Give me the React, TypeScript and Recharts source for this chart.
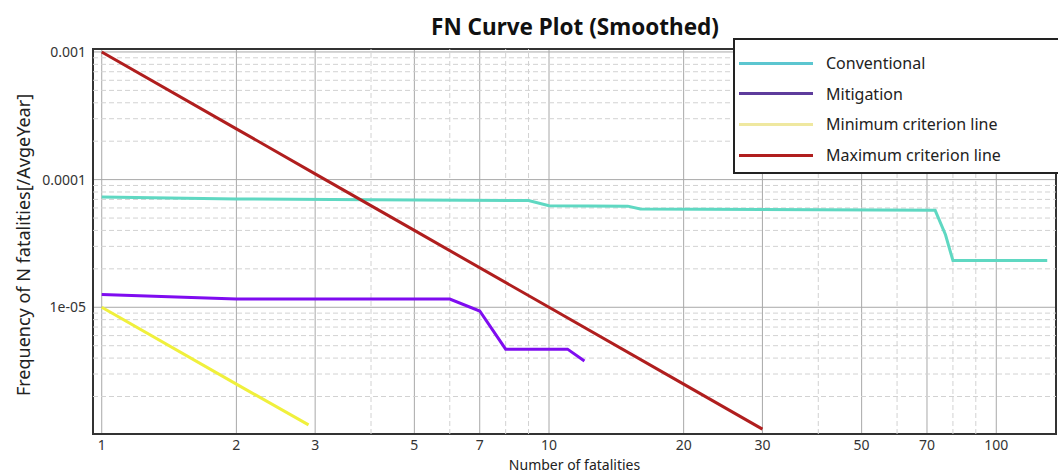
import React from 'react';
import {
	LineChart,
	Line,
	XAxis,
	YAxis,
	CartesianGrid,
	ReferenceLine,
	ReferenceArea,
	Legend,
} from 'recharts';

// values (log-log FN plot)
const conventionalN = [1, 2, 4, 9, 10, 15, 16, 73, 77, 80, 130];
const conventionalF = [7.3e-5, 7.05e-5, 6.95e-5, 6.85e-5, 6.25e-5, 6.2e-5, 5.9e-5, 5.75e-5, 3.7e-5, 2.32e-5, 2.32e-5];

const mitigationN = [1, 2, 6, 7, 8, 11, 12];
const mitigationF = [1.26e-5, 1.16e-5, 1.16e-5, 9.35e-6, 4.7e-6, 4.7e-6, 3.8e-6];

const minimumN = [1, 2, 2.9];
const minimumF = [1e-5, 2.5e-6, 1.2e-6];

const maximumN = [1, 2, 3, 5, 10, 20, 30];
const maximumF = [1e-3, 2.5e-4, 1.11e-4, 4e-5, 1e-5, 2.5e-6, 1.11e-6];

const xTicks = [1, 2, 3, 5, 7, 10, 20, 30, 50, 70, 100];
const xMinorTicks = [4, 6, 8, 9, 40, 60, 80, 90];
const yTicks = [0.001, 0.0001, 0.00001];
const yTickLabels = ['0.001', '0.0001', '1e-05'];
const yMinorTicks = [
	2e-6, 3e-6, 4e-6, 5e-6, 6e-6, 7e-6, 8e-6, 9e-6,
	2e-5, 3e-5, 4e-5, 5e-5, 6e-5, 7e-5, 8e-5, 9e-5,
	2e-4, 3e-4, 4e-4, 5e-4, 6e-4, 7e-4, 8e-4, 9e-4,
];
const xDomain: [number, number] = [0.956, 136];
const yDomain: [number, number] = [1.017e-6, 1.055e-3];

const series = [
	{ name: 'Conventional', n: conventionalN, f: conventionalF, color: '#5fd8c2', legendColor: '#5cc6d0' },
	{ name: 'Mitigation', n: mitigationN, f: mitigationF, color: '#7f0cf0', legendColor: '#5e3c9c' },
	{ name: 'Minimum criterion line', n: minimumN, f: minimumF, color: '#f0f03c', legendColor: '#efe8a0' },
	{ name: 'Maximum criterion line', n: maximumN, f: maximumF, color: '#b01e1e', legendColor: '#b01e1e' },
];

const toPoints = (n: number[], f: number[]) => n.map((v, i) => ({ n: v, f: f[i] }));

const renderLegend = () => (
	<div
		style={{
			position: 'relative',
			width: 330,
			height: 136,
			border: '2px solid #222',
			background: '#fff',
			boxSizing: 'border-box',
		}}
	>
		{series.map((s, i) => (
			<div
				key={s.name}
				style={{
					position: 'absolute',
					left: 4,
					top: 23 + i * 30.7 - 11,
					height: 22,
					display: 'flex',
					alignItems: 'center',
				}}
			>
				<div style={{ width: 74, height: 3, background: s.legendColor }} />
				<span style={{ marginLeft: 13, fontSize: 16, color: '#222', whiteSpace: 'nowrap' }}>
					{s.name}
				</span>
			</div>
		))}
	</div>
);

export default function App() {
	return (
		<div
			style={{
				position: 'absolute',
				left: 0,
				top: 0,
				width: 1058,
				height: 474,
				overflow: 'hidden',
				background: '#fff',
				fontFamily: '"Noto Sans", sans-serif',
			}}
		>
			<LineChart width={1058} height={474} margin={{ top: 49, right: 2, bottom: 0, left: 0 }}>
				<CartesianGrid stroke="#a8a8a8" strokeWidth={1} />

				{xMinorTicks.map((v) => (
					<ReferenceLine key={`x${v}`} x={v} stroke="#d2d2d2" strokeDasharray="5 3" />
				))}
				{yMinorTicks.map((v) => (
					<ReferenceLine key={`y${v}`} y={v} stroke="#d2d2d2" strokeDasharray="5 3" />
				))}

				<XAxis
					dataKey="n"
					type="number"
					scale="log"
					domain={xDomain}
					allowDataOverflow
					ticks={xTicks}
					height={40}
					axisLine={false}
					tickLine={false}
					tickSize={6}
					tickMargin={0}
					tick={{ fontSize: 14, fill: '#333' }}
					label={{ value: 'Number of fatalities', position: 'insideBottom', offset: 4.5, fontSize: 14, fill: '#222' }}
				/>

				<YAxis
					dataKey="f"
					type="number"
					scale="log"
					domain={yDomain}
					allowDataOverflow
					ticks={yTicks}
					width={93}
					axisLine={false}
					tickLine={false}
					tickSize={6}
					tickMargin={1}
					tick={{ fontSize: 14, fill: '#333' }}
					tickFormatter={(v: number) => yTickLabels[yTicks.indexOf(v)] ?? String(v)}
				/>

				<ReferenceArea
					x1={xDomain[0]}
					x2={xDomain[1]}
					y1={yDomain[0]}
					y2={yDomain[1]}
					fill="none"
					fillOpacity={0}
					stroke="#333"
					strokeWidth={2}
					ifOverflow="visible"
				/>

				{series.map((s) => (
					<Line
						key={s.name}
						data={toPoints(s.n, s.f)}
						dataKey="f"
						name={s.name}
						type="linear"
						stroke={s.color}
						strokeWidth={3}
						dot={false}
						activeDot={false}
						isAnimationActive={false}
					/>
				))}

				<Legend
					layout="horizontal"
					verticalAlign="middle"
					align="center"
					content={renderLegend}
					wrapperStyle={{ top: 38, left: 733, width: 330, height: 136 }}
				/>
			</LineChart>

			<svg
				width={1058}
				height={474}
				style={{ position: 'absolute', left: 0, top: 0, pointerEvents: 'none' }}
			>
				<text x={575} y={35} textAnchor="middle" fontSize={22.5} fontWeight="bold" fill="#111">
					FN Curve Plot (Smoothed)
				</text>
				<text transform="translate(30,245) rotate(-90)" textAnchor="middle" fontSize={18} fill="#222">
					Frequency of N fatalities[/AvgeYear]
				</text>
			</svg>
		</div>
	);
}
